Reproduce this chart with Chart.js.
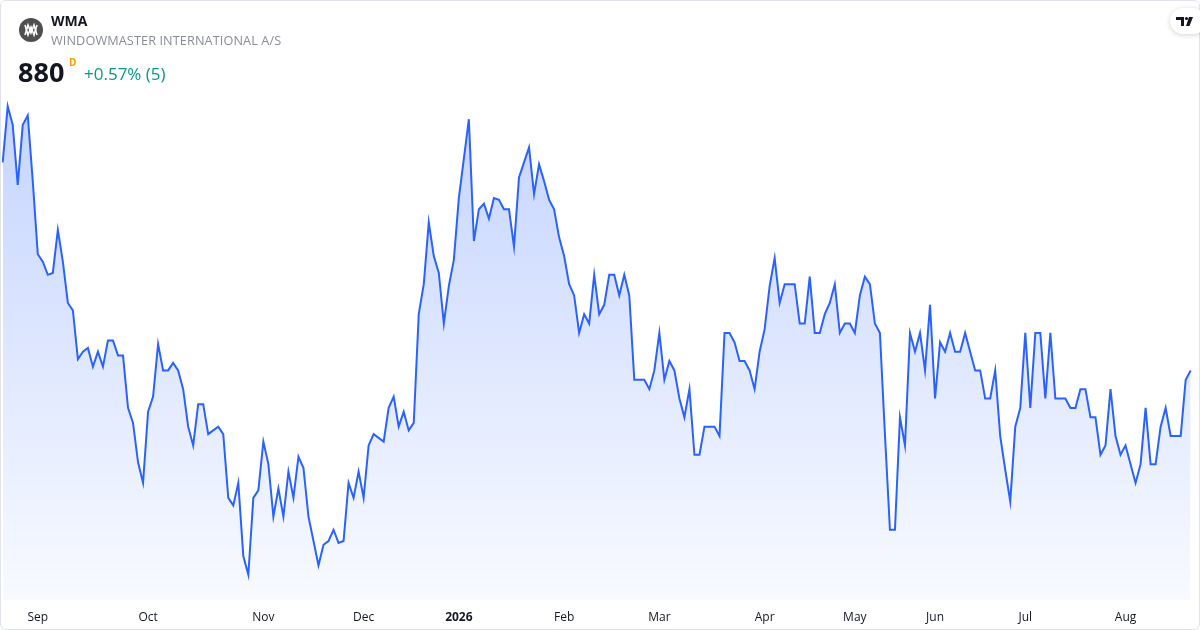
<!DOCTYPE html>
<html>
<head>
<meta charset="utf-8">
<script src="https://cdn.jsdelivr.net/npm/chart.js@4.4.1/dist/chart.umd.min.js"></script>
<style>
  html, body { margin: 0; padding: 0; background: #fff; }
  body { width: 1200px; height: 630px; position: relative; overflow: hidden; font-family: "Open Sans", "Noto Sans", sans-serif; }
  .card { position: absolute; left: 0; top: 0; width: 1198px; height: 628px; border: 1px solid #e0e3eb; border-radius: 6px; }
  #chart-wrap { position: absolute; left: 0; top: 0; width: 1200px; height: 630px; }
  .logo { position: absolute; left: 19px; top: 18px; width: 24px; height: 24px; border-radius: 50%; background: #4f4f4f; }
  .sym { position: absolute; left: 51px; top: 11px; font-size: 14px; font-weight: 700; color: #131722; }
  .name { position: absolute; left: 51px; top: 31px; font-size: 12.7px; color: #8a8d96; letter-spacing: 0.1px; }
  .price { position: absolute; left: 18px; top: 53px; font-size: 27px; font-weight: 700; color: #131722; }
  .flag { position: absolute; left: 69px; top: 55px; font-size: 10px; font-weight: 700; color: #ff9800; }
  .chg { position: absolute; left: 84px; top: 62px; font-size: 17px; color: #089981; }
  .tv { position: absolute; left: 1170px; top: 8px; width: 36px; height: 26px; border-radius: 13px; background: #fff; box-shadow: 0 1px 5px rgba(0,0,0,0.18); }
</style>
</head>
<body>
<div id="chart-wrap"><canvas id="chart" width="1200" height="630"></canvas></div>
<div class="card"></div>
<div class="logo">
  <svg width="24" height="24" viewBox="0 0 24 24">
    <path d="M6 7 L9 17 L12 9 L15 17 L18 7" stroke="#fff" stroke-width="1.6" fill="none"/>
    <path d="M6 17 L9 7 L12 15 L15 7 L18 17" stroke="#fff" stroke-width="1.6" fill="none"/>
  </svg>
</div>
<div class="sym">WMA</div>
<div class="name">WINDOWMASTER INTERNATIONAL A/S</div>
<div class="price">880</div>
<div class="flag">D</div>
<div class="chg">+0.57% (5)</div>
<div class="tv">
  <svg width="36" height="26" viewBox="0 0 36 26">
    <path d="M6 9 H14 V18 H11 V12 H6 Z" fill="#131722"/>
    <circle cx="16.5" cy="10.5" r="1.6" fill="#131722"/>
    <path d="M19 9 H23 L19.5 18 H16 Z" fill="#131722"/>
  </svg>
</div>
<script>
// daily closes, late Aug 2025 -> late Aug 2026
const CLOSES = [
  991, 1021, 1011, 979, 1011, 1016, 981, 942, 938, 931,
  932, 955, 938, 916, 912, 886, 890, 892, 882, 890,
  882, 896, 896, 888, 888, 860, 852, 831, 820, 858,
  866, 894, 880, 880, 884, 880, 870, 850, 840, 862,
  862, 846, 848, 850, 846, 812, 808, 820, 781, 771,
  812, 816, 842, 830, 802, 817, 802, 826, 812, 834,
  828, 802, 789, 776, 787, 789, 795, 788, 789, 820,
  812, 826, 812, 840, 846, 844, 842, 860, 866, 850,
  858, 848, 852, 910, 926, 959, 941, 932, 905, 925,
  939, 972, 993, 1014, 949, 966, 969, 961, 972, 971,
  966, 966, 946, 983, 991, 999, 974, 990, 981, 971,
  966, 951, 941, 926, 920, 900, 910, 905, 931, 910,
  915, 931, 931, 920, 931, 920, 875, 875, 875, 870,
  880, 900, 875, 885, 880, 865, 855, 870, 835, 835,
  850, 850, 850, 845, 900, 900, 895, 885, 885, 880,
  870, 890, 902, 925, 940, 916, 926, 926, 926, 905,
  905, 930, 900, 900, 910, 916, 926, 900, 905, 905,
  900, 920, 930, 926, 905, 900, 846, 795, 795, 855,
  840, 900, 890, 900, 880, 915, 865, 895, 890, 900,
  890, 890, 900, 890, 880, 880, 865, 865, 880, 845,
  827, 810, 850, 860, 900, 860, 900, 900, 865, 900,
  865, 865, 865, 860, 860, 870, 870, 855, 855, 835,
  840, 870, 845, 835, 840, 830, 820, 830, 860, 830,
  830, 850, 860, 845, 845, 845, 875, 880
];

// bar index where each month label sits
const MONTH_TICK_INDEX = [7, 29, 52, 72, 91, 112, 131, 152, 170, 186, 204, 224];
const MONTH_TICK_LABELS = ['Sep', 'Oct', 'Nov', 'Dec', '2026', 'Feb', 'Mar', 'Apr', 'May', 'Jun', 'Jul', 'Aug'];

const Y_MIN = 757.2;
const Y_MAX = 1029.6;

const tickMap = {};
MONTH_TICK_INDEX.forEach((i, k) => { tickMap[i] = MONTH_TICK_LABELS[k]; });

function buildChart(canvas) {
  const ctx = canvas.getContext('2d');
  const gradient = ctx.createLinearGradient(0, 90, 0, 600);
  gradient.addColorStop(0, 'rgba(41, 98, 255, 0.28)');
  gradient.addColorStop(1, 'rgba(41, 98, 255, 0.03)');

  return new Chart(ctx, {
    type: 'line',
    data: {
      labels: CLOSES.map((_, i) => i),
      datasets: [{
        data: CLOSES,
        borderColor: '#2962ff',
        backgroundColor: gradient,
        borderWidth: 2,
        pointRadius: 0,
        tension: 0,
        fill: 'start',
      }],
    },
    options: {
      responsive: false,
      animation: false,
      layout: { padding: { left: 2.7, right: 9.3, top: 90, bottom: -5 } },
      plugins: { legend: { display: false }, tooltip: { enabled: false } },
      scales: {
        x: {
          grid: { display: false, drawTicks: false },
          border: { display: false },
          afterFit: s => { s.paddingLeft = 0; s.paddingRight = 0; },
          ticks: {
            autoSkip: false,
            maxRotation: 0,
            padding: 10,
            color: '#131722',
            font: c => ({ family: "'Open Sans', sans-serif", size: 12, weight: tickMap[c.index] === '2026' ? 'bold' : 'normal' }),
            callback: (v, i) => tickMap[i] ?? '',
          },
        },
        y: { display: false, min: Y_MIN, max: Y_MAX },
      },
    },
  });
}

buildChart(document.getElementById('chart'));
</script>
</body>
</html>
